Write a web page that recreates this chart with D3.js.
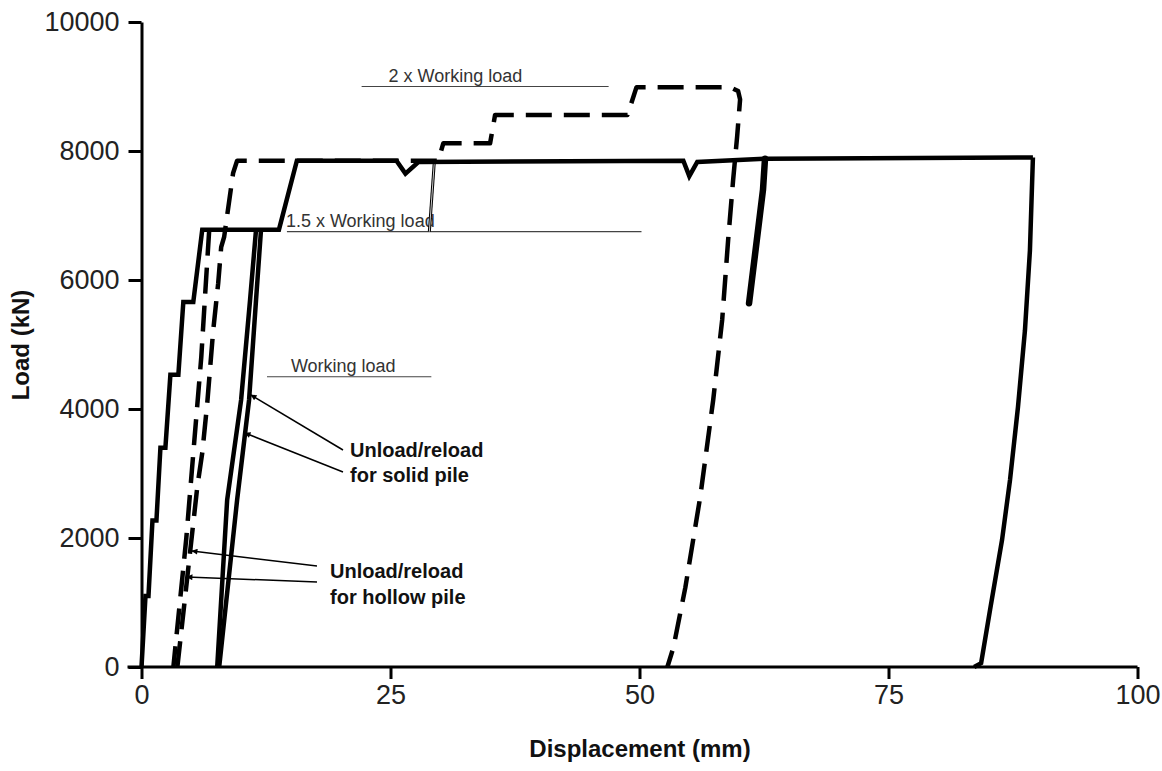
<!DOCTYPE html>
<html>
<head>
<meta charset="utf-8">
<script src="https://cdn.jsdelivr.net/npm/d3@7"></script>
<style>
  html, body { margin: 0; padding: 0; background: #fff; }
  svg { display: block; font-family: "Liberation Sans", Arial, sans-serif; }
</style>
</head>
<body>
<svg id="chart" width="1162" height="771"></svg>
<script>
// ---- data (displacement mm, load kN) ----
const xTicks = [0, 25, 50, 75, 100];
const yTicks = [0, 2000, 4000, 6000, 8000, 10000];

// solid pile: stepped loading, creep plateaus, final unload
const solidLoading = [[0,0],[0.4,1100],[0.7,1100],[1.1,2270],[1.5,2270],[1.9,3400],[2.4,3400],
  [2.9,4530],[3.7,4530],[4.2,5660],[5.2,5660],[6.1,6780],[13.8,6780],[15.6,7850],[25.6,7850],
  [26.5,7650],[27.8,7830],[54.4,7850],[55.0,7610],[55.8,7830],[62.7,7880],[89.5,7900]];
const solidUnload = [[89.5,7900],[89.2,6460],[88.7,5220],[88.0,4030],[87.2,2900],[86.4,1970],
  [85.2,890],[84.3,60],[83.6,0]];
const solidLoopA = [[11.5,6780],[10.9,5690],[10.0,4140],[8.6,2590],[7.6,0]];
const solidLoopB = [[7.8,0],[9.6,2590],[10.8,4140],[11.5,5690],[12.0,6780]];
const solidDrop = [[62.6,7880],[62.4,7400],[61.0,5640]];

// hollow pile: unload/reload loop, then load steps to 2 x working load, final unload
const hollowUnload = [[6.8,6780],[6.4,5800],[6.0,4800],[5.3,3500],[4.5,2000],[3.2,0]];
const hollowMain = [[3.6,0],[5.6,2790],[6.1,3320],[6.6,4090],[7.2,5220],[7.7,5950],[8.0,6510],
  [8.3,6670],[9.2,7660],[9.6,7850],[29.8,7850],[30.3,8120],[35.0,8120],[35.5,8560],[48.8,8560],
  [49.7,8990],[59.1,8990],[59.9,8930],[60.1,8800],[59.8,8220],[59.4,7550],[58.9,6620],[58.3,5380],
  [57.4,4140],[56.1,2640],[54.6,1230],[53.4,300],[52.8,0]];
const thinUnload = [[29.4,7830],[28.9,6750]];

// reference load levels
const refLabels = ["Working load", "1.5 x Working load", "2 x Working load"];
const refLoads = [4500, 6750, 9000];
const refFrom = [12.6, 14.6, 22.1];
const refTo = [29.1, 50.2, 46.9];
const refTextAt = [15.0, 14.5, 24.8];

// ---- drawing ----
const svg = d3.select("#chart");
const x = d3.scaleLinear().domain([0, 100]).range([141.5, 1137.5]);
const y = d3.scaleLinear().domain([0, 10000]).range([667, 22]);
const line = d3.line().x(d => x(d[0])).y(d => y(d[1]));

// axes
const yAxis = svg.append("g").attr("transform", `translate(${x(0)},0)`)
  .call(d3.axisLeft(y).tickValues(yTicks).tickFormat(d3.format("d")).tickSize(13).tickSizeOuter(0).tickPadding(9));
const xAxis = svg.append("g").attr("transform", `translate(0,${y(0)})`)
  .call(d3.axisBottom(x).tickValues(xTicks).tickFormat(d3.format("d")).tickSize(12).tickSizeOuter(0).tickPadding(6));
[yAxis, xAxis].forEach(g => {
  g.select(".domain").attr("stroke", "#000").attr("stroke-width", 3);
  g.selectAll(".tick line").attr("stroke", "#000").attr("stroke-width", 3);
  g.selectAll(".tick text").attr("font-size", 27).attr("fill", "#222")
    .attr("font-family", "'Liberation Sans', Arial, sans-serif");
});
xAxis.select(".domain").attr("d", `M${x(0) - 14},0H${x(100)}`);

// axis titles
svg.append("text").attr("x", 640).attr("y", 757).attr("text-anchor", "middle")
  .attr("font-size", 24).attr("font-weight", "bold").attr("fill", "#111").text("Displacement (mm)");
svg.append("text").attr("transform", "translate(29,345) rotate(-90)").attr("text-anchor", "middle")
  .attr("font-size", 24).attr("font-weight", "bold").attr("fill", "#111").text("Load (kN)");

// reference lines
refLoads.forEach((v, i) => {
  svg.append("line").attr("x1", x(refFrom[i])).attr("x2", x(refTo[i]))
    .attr("y1", y(v)).attr("y2", y(v)).attr("stroke", "#444").attr("stroke-width", 1.2);
  svg.append("text").attr("x", x(refTextAt[i])).attr("y", y(v) - 5)
    .attr("font-size", 18).attr("fill", "#333").text(refLabels[i]);
});

// hollow pile (dashed)
const dashed = "26,12";
[hollowUnload, hollowMain].forEach(d => {
  svg.append("path").attr("d", line(d)).attr("fill", "none").attr("stroke", "#000")
    .attr("stroke-width", 4.5).attr("stroke-dasharray", dashed).attr("stroke-linejoin", "round");
});
svg.append("path").attr("d", line(thinUnload)).attr("fill", "none").attr("stroke", "#000").attr("stroke-width", 3);
svg.append("path").attr("d", line(thinUnload)).attr("fill", "none").attr("stroke", "#fff").attr("stroke-width", 0.8);

// solid pile
[solidLoading, solidUnload, solidLoopA, solidLoopB].forEach(d => {
  svg.append("path").attr("d", line(d)).attr("fill", "none").attr("stroke", "#000")
    .attr("stroke-width", 4.5).attr("stroke-linejoin", "miter");
});
svg.append("path").attr("d", line(solidDrop)).attr("fill", "none").attr("stroke", "#000")
  .attr("stroke-width", 6.5).attr("stroke-linecap", "round");

// annotations
const defs = svg.append("defs");
defs.append("marker").attr("id", "arr").attr("viewBox", "0 0 10 10").attr("refX", 9).attr("refY", 5)
  .attr("markerWidth", 9).attr("markerHeight", 6).attr("orient", "auto").attr("markerUnits", "userSpaceOnUse")
  .append("path").attr("d", "M0,0L10,5L0,10Z").attr("fill", "#000");
const arrows = [
  [[343, 450], [251, 395]],
  [[343, 472], [245, 433]],
  [[317, 566], [192, 551]],
  [[317, 582], [187, 577]]
];
arrows.forEach(a => {
  svg.append("line").attr("x1", a[0][0]).attr("y1", a[0][1]).attr("x2", a[1][0]).attr("y2", a[1][1])
    .attr("stroke", "#000").attr("stroke-width", 1.5).attr("marker-end", "url(#arr)");
});
const notes = [
  [350, 457, "Unload/reload"], [350, 482, "for solid pile"],
  [330, 578, "Unload/reload"], [330, 604, "for hollow pile"]
];
notes.forEach(n => {
  svg.append("text").attr("x", n[0]).attr("y", n[1]).attr("font-size", 20).attr("font-weight", "bold")
    .attr("fill", "#111").text(n[2]);
});
</script>
</body>
</html>
